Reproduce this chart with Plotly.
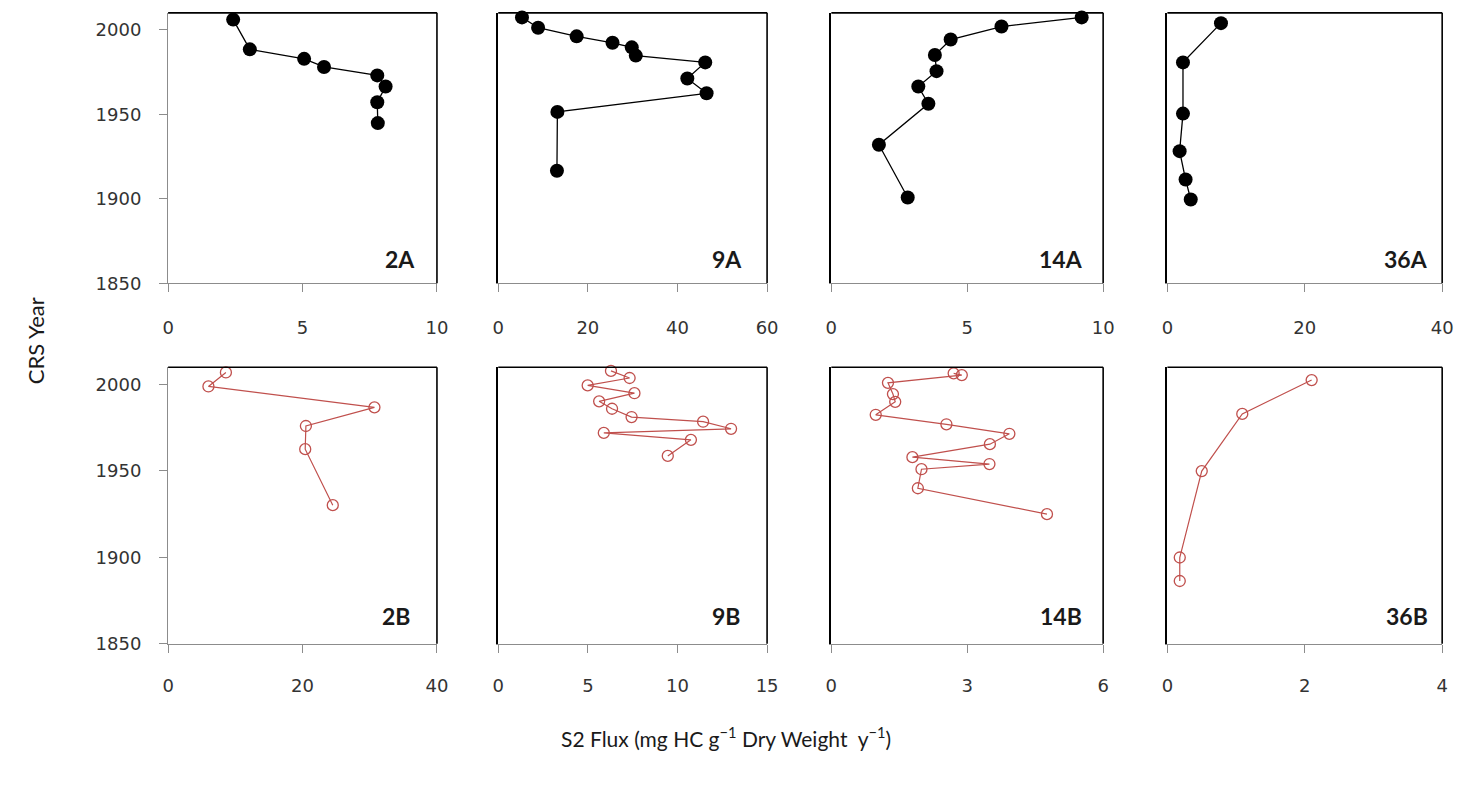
import plotly.graph_objects as go

# ---------------- data ----------------
panel_labels = ["2A", "9A", "14A", "36A", "2B", "9B", "14B", "36B"]

flux_2A = [2.42, 3.04, 5.06, 5.80, 7.78, 8.09, 7.78, 7.80]
year_2A = [2006, 1988.4, 1982.8, 1978, 1973, 1966.4, 1957.1, 1944.8]

flux_9A = [5.3, 8.9, 17.5, 25.5, 29.8, 30.7, 46.2, 42.2, 46.5, 13.2, 13.1]
year_9A = [2007.3, 2001.2, 1996.1, 1992.3, 1989.6, 1984.7, 1980.7, 1971.2, 1962.4, 1951.4, 1916.6]

flux_14A = [9.21, 6.26, 4.39, 3.81, 3.87, 3.20, 3.57, 1.75, 2.81]
year_14A = [2007.3, 2001.9, 1994.2, 1985.1, 1975.5, 1966.4, 1956.2, 1932.0, 1900.8]

flux_36A = [7.8, 2.27, 2.27, 1.78, 2.65, 3.4]
year_36A = [2003.9, 1980.7, 1950.4, 1928.2, 1911.4, 1899.6]

flux_2B = [8.6, 6.0, 30.7, 20.5, 20.4, 24.5]
year_2B = [2007, 1998.9, 1986.8, 1976, 1962.6, 1930.2]

flux_9B = [6.29, 7.33, 4.99, 7.6, 5.63, 6.35, 7.44, 11.43, 12.99, 5.89, 10.75, 9.46]
year_9B = [2007.9, 2003.8, 1999.5, 1995, 1990.3, 1986, 1981.2, 1978.5, 1974.4, 1972, 1968, 1958.7]

flux_14B = [2.70, 2.88, 1.25, 1.36, 1.41, 0.98, 2.54, 3.93, 3.50, 1.79, 3.49, 1.99, 1.91, 4.76]
year_14B = [2006.5, 2005.5, 2001, 1994.5, 1990, 1982.5, 1977, 1971.5, 1965.5, 1958, 1954, 1951, 1940, 1925]

flux_36B = [2.10, 1.09, 0.50, 0.18, 0.18]
year_36B = [2002.6, 1983, 1949.9, 1899.9, 1886.3]

x_max = [10, 60, 10, 40, 40, 15, 6, 4]
x_dtick = [5, 20, 5, 20, 20, 5, 3, 2]
year_ticks = [1850, 1900, 1950, 2000]
year_range = [1850, 2010]

x_title = "S2 Flux (mg HC g<sup>−1</sup> Dry Weight  y<sup>−1</sup>)"
y_title = "CRS Year"

series = [
    (flux_2A, year_2A), (flux_9A, year_9A), (flux_14A, year_14A), (flux_36A, year_36A),
    (flux_2B, year_2B), (flux_9B, year_9B), (flux_14B, year_14B), (flux_36B, year_36B),
]

# ---------------- layout geometry ----------------
W, H = 1468, 788
col_px = [(164, 436), (498, 770), (835, 1110), (1175, 1453)]
row_px = [(13, 287), (372, 652)]
label_pos = [(0.925, 0.09), (0.915, 0.09), (0.935, 0.09), (0.955, 0.09),
             (0.91, 0.10), (0.91, 0.10), (0.93, 0.10), (0.955, 0.10)]

BLACK = "#000000"
RED = "#c0504d"
AXIS_GREY = "#8c8c8c"
TICK_FONT = dict(family="DejaVu Sans", size=18, color="#333333")
LABEL_FONT = dict(family="Lato", size=23, color="#1a1a1a")

fig = go.Figure()
layout = dict(
    width=W, height=H, margin=dict(l=0, r=0, t=0, b=0),
    paper_bgcolor="white", plot_bgcolor="white", showlegend=False,
)
shapes, annotations = [], []

for i, (xs, ys) in enumerate(series):
    r, c = divmod(i, 4)
    n = i + 1
    xa = "xaxis" if n == 1 else f"xaxis{n}"
    ya = "yaxis" if n == 1 else f"yaxis{n}"
    xref = "x" if n == 1 else f"x{n}"
    yref = "y" if n == 1 else f"y{n}"

    if r == 0:
        mk = dict(symbol="circle", size=14, color=BLACK)
        ln = dict(color=BLACK, width=1.3)
    else:
        mk = dict(symbol="circle-open", size=11, color=RED, line=dict(color=RED, width=1.3))
        ln = dict(color=RED, width=1.2)

    fig.add_trace(go.Scatter(x=xs, y=ys, mode="lines+markers", marker=mk, line=ln,
                             xaxis=xref, yaxis=yref, cliponaxis=False, hoverinfo="x+y"))

    x0, x1 = col_px[c]
    y0, y1 = row_px[r]
    layout[xa] = dict(
        domain=[x0 / W, x1 / W], range=[0, x_max[i]], dtick=x_dtick[i], tick0=0,
        showline=True, linecolor=AXIS_GREY, linewidth=1.2,
        ticks="outside", ticklen=8, tickcolor=AXIS_GREY, tickwidth=1.2,
        ticklabelstandoff=20 if r == 0 else 18,
        showgrid=False, zeroline=False, tickfont=TICK_FONT, anchor=yref,
        fixedrange=True,
    )
    layout[ya] = dict(
        domain=[1 - y1 / H, 1 - y0 / H], range=year_range, tickvals=year_ticks,
        showline=True, linecolor=AXIS_GREY if c == 0 else BLACK,
        linewidth=1.2 if c == 0 else 1.5,
        ticks="outside" if c == 0 else "", ticklen=8, tickcolor=AXIS_GREY, tickwidth=1.2,
        showticklabels=(c == 0), ticklabelstandoff=14,
        showgrid=False, zeroline=False, tickfont=TICK_FONT, anchor=xref,
        fixedrange=True,
    )
    # black plot-area border on top and right
    shapes.append(dict(type="line", xref=f"{xref} domain", yref=f"{yref} domain",
                       x0=0, x1=1, y0=1, y1=1, line=dict(color=BLACK, width=1.6)))
    shapes.append(dict(type="line", xref=f"{xref} domain", yref=f"{yref} domain",
                       x0=1, x1=1, y0=0, y1=1, line=dict(color=BLACK, width=1.6)))
    lx, ly = label_pos[i]
    annotations.append(dict(text=f"<b>{panel_labels[i]}</b>", xref=f"{xref} domain",
                            yref=f"{yref} domain", x=lx, y=ly, xanchor="right",
                            yanchor="middle", showarrow=False, font=LABEL_FONT))

annotations.append(dict(text=y_title, xref="paper", yref="paper", x=30 / W, y=1 - 345 / H,
                        textangle=-90, showarrow=False, xanchor="center", yanchor="middle",
                        font=dict(family="Lato", size=22, color="#1a1a1a")))
annotations.append(dict(text=x_title, xref="paper", yref="paper", x=728 / W, y=1 - 746 / H,
                        showarrow=False, xanchor="center", yanchor="middle",
                        font=dict(family="Lato", size=21, color="#1a1a1a")))

layout["shapes"] = shapes
layout["annotations"] = annotations
fig.update_layout(**layout)
fig.write_html("out.html")
